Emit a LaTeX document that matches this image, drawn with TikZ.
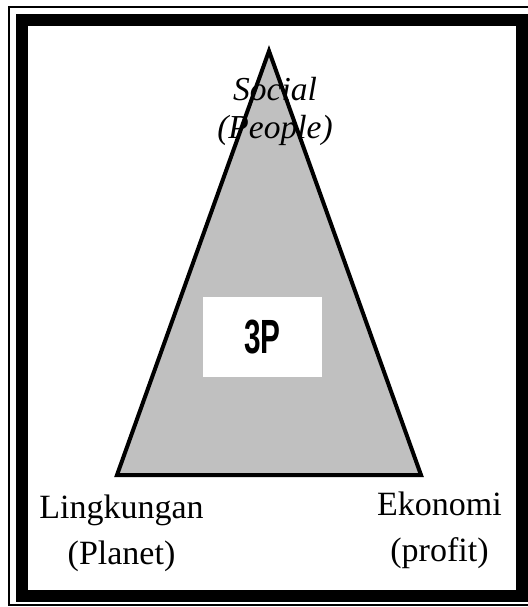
\documentclass[tikz,border=0pt]{standalone}
\usepackage{fontspec}
\setmainfont{Liberation Serif}
\newfontfamily\boxfont{Liberation Sans}
\usetikzlibrary{positioning}
\definecolor{TriGray}{RGB}{192,192,192}

\begin{document}
\begin{tikzpicture}[
  x=1pt, y=-1pt,
  frameouter/.style={draw=black, line width=2pt},
  frameinner/.style={draw=black, line width=12pt},
  tri/.style={draw=black, fill=TriGray, line width=4pt, line join=miter},
  markbox/.style={
    rectangle, fill=white, draw=none, inner sep=0pt,
    minimum width=119pt, minimum height=80pt, align=center,
    font=\boxfont\bfseries\fontsize{48}{48}\selectfont
  },
  pillar/.style={align=center, inner sep=0pt, font=\fontsize{34}{46}\selectfont},
  apexlabel/.style={align=center, inner sep=0pt, font=\itshape\fontsize{33.5}{38}\selectfont}
]
\useasboundingbox (0,0) rectangle (527,607);

% --- double frame
\draw[frameouter] (9,7) rectangle (540,604.5);
\draw[frameinner] (22,20.5) rectangle (522,595.5);

% --- triangle
\coordinate (apex) at (269,51);
\coordinate (lft)  at (117,475);
\coordinate (rgt)  at (421,475);
\draw[tri] (apex) -- (lft) -- (rgt) -- cycle;

% --- centre box
\node[markbox] (mark) at (262.5,337) {\scalebox{0.62}[1]{3P}};

% --- labels
\node[apexlabel] (social) at (275,111) {Social\\(People)};
\node[pillar] (planet) at (121.5,533) {Lingkungan\\(Planet)};
\node[pillar] (profit) at (439.5,530) {Ekonomi\\(profit)};

\end{tikzpicture}
\end{document}
